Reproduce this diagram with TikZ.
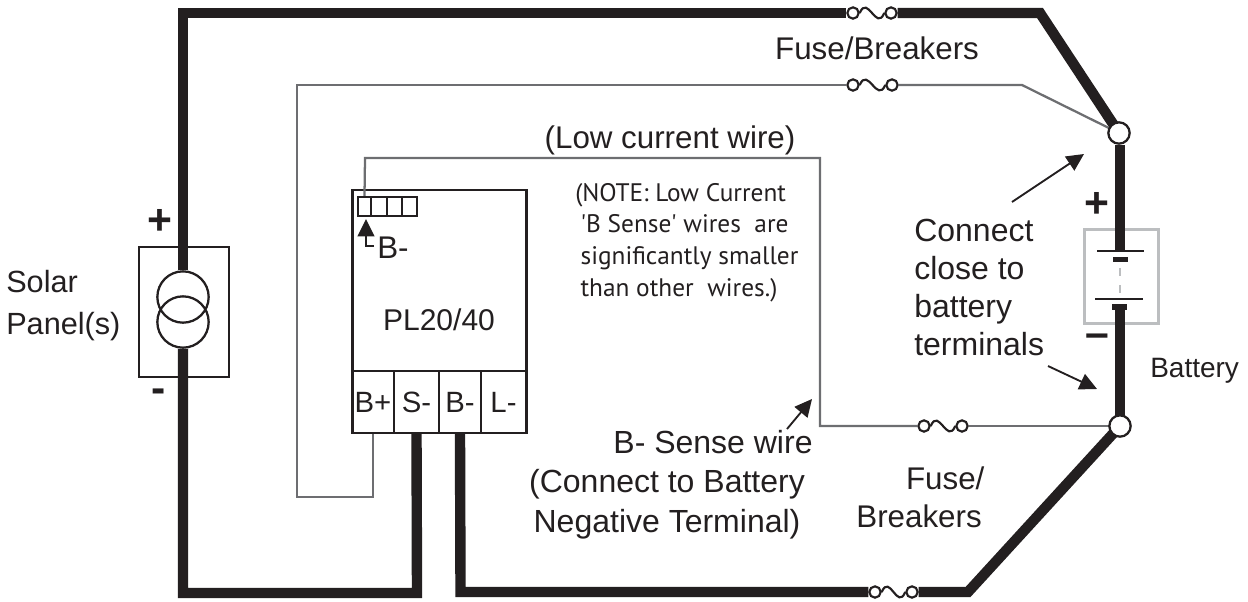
\documentclass[tikz,border=0pt]{standalone}
\usepackage{fontspec}
\setmainfont{Liberation Sans}
\newfontfamily\notefont{PT Sans}
\usepackage{tikz}
\usetikzlibrary{arrows.meta}
\definecolor{ink}{HTML}{231F20}
\definecolor{wiregray}{HTML}{6D6E71}
\definecolor{cellgray}{HTML}{BCBEC0}
\tikzset{
  heavywire/.style={draw=ink,line width=7.8pt,line join=miter},
  lightwire/.style={draw=wiregray,line width=1.7pt},
  boxline/.style={draw=ink,line width=1.7pt},
  fusepin/.style={circle,draw=ink,fill=white,line width=1.6pt,minimum size=8.5pt,inner sep=0pt},
  fusecurve/.style={draw=ink,line width=1.6pt},
  junction/.style={circle,draw=ink,fill=white,line width=1.7pt,minimum size=16pt,inner sep=0pt},
  termbox/.style={boxline,minimum height=46.5pt,inner sep=0pt,font=\fontsize{22}{24}\selectfont,text=ink},
  label/.style={font=\fontsize{23.5}{29}\selectfont,text=ink,inner sep=0pt},
  signmark/.style={label,font=\bfseries\fontsize{32}{34}\selectfont,anchor=center},
  pointer/.style={draw=ink,line width=1.4pt,-{Triangle[length=13pt,width=12.5pt]}}
}
\newcommand{\fusesym}[2]{\draw[fusecurve] (#1.east) .. controls +(8,-19) and +(-8,19) .. (#2.west);}
\begin{document}
\begin{tikzpicture}[x=0.75pt,y=-0.75pt]
\useasboundingbox (0,0) rectangle (1248,601);
% solar panel
\node[boxline,minimum width=67.5pt,minimum height=97.5pt,inner sep=0pt] (panel) at (184,312) {};
\node[circle,boxline,minimum size=38.5pt,inner sep=0pt] (srcT) at (183,297) {};
\node[circle,boxline,minimum size=38.5pt,inner sep=0pt] (srcB) at (183,322) {};
% controller
\node[boxline,minimum width=130.5pt,minimum height=182pt,inner sep=0pt] (ctrl) at (439.5,311.5) {};
\node[termbox,minimum width=31pt] (tBp) at (373,402) {B+};
\node[termbox,minimum width=34pt] (tS) at (416.5,402) {S-};
\node[termbox,minimum width=31.5pt] (tB) at (460,402) {B-};
\node[termbox,minimum width=33.5pt] (tL) at (503.5,402) {L-};
\node[boxline,minimum width=9.75pt,minimum height=14.25pt,inner sep=0pt] (pinA) at (364.5,206.5) {};
\node[boxline,minimum width=12pt,minimum height=14.25pt,inner sep=0pt] (pinB) at (379,206.5) {};
\node[boxline,minimum width=11pt,minimum height=14.25pt,inner sep=0pt] (pinC) at (394.5,206.5) {};
\node[boxline,minimum width=11pt,minimum height=14.25pt,inner sep=0pt] (pinD) at (409.5,206.5) {};
% fuses
\node[fusepin] (fuseAl) at (853,13) {};
\node[fusepin] (fuseAr) at (891,13) {};
\node[fusepin] (fuseBl) at (853,85) {};
\node[fusepin] (fuseBr) at (892,85) {};
\node[fusepin] (fuseCl) at (924,426) {};
\node[fusepin] (fuseCr) at (962,426) {};
\node[fusepin] (fuseDl) at (875,592) {};
\node[fusepin] (fuseDr) at (912,592) {};
% battery
\node[draw=cellgray,line width=1.7pt,minimum width=55.5pt,minimum height=70.5pt,inner sep=0pt] (cell) at (1121.5,276.5) {};
\coordinate (plateA) at (1120,251);
\coordinate (plateB) at (1120,299);
\coordinate (gapA) at (1120,262);
\coordinate (gapB) at (1120,304);
% corners
\coordinate (topL) at (183,13);
\coordinate (topR) at (1040,13);
\coordinate (lightL) at (297,85);
\coordinate (lightR) at (1022,85);
\coordinate (lightB) at (373,497);
\coordinate (senseT) at (365,158);
\coordinate (senseR) at (820,158);
\coordinate (senseB) at (820,426);
\coordinate (botS) at (417,593);
\coordinate (botB) at (460.5,592);
\coordinate (botR) at (968,592);
% wires
\draw[heavywire] (srcT.north) -- (topL) -- (fuseAl.west);
\draw[heavywire] (fuseAr.east) -- (topR) -- (1119,133) coordinate (posT);
\draw[heavywire] (srcB.south) |- (botS) -- (tS.south);
\draw[heavywire] (tB.south) -- (botB) -- (fuseDl.west);
\draw[heavywire] (fuseDr.east) -- (botR) -- (1120,426) coordinate (negT);
\draw[lightwire] (tBp.south) -- (lightB) -- (297,497) -- (lightL) -- (fuseBl.west);
\draw[lightwire] (fuseBr.east) -- (lightR) -- (posT);
\draw[lightwire] (pinA.north) -- (senseT) -- (senseR) -- (senseB) -- (fuseCl.west);
\draw[lightwire] (fuseCr.east) -- (negT);
\node[junction] (posJ) at (posT) {};
\node[junction] (negJ) at (negT) {};
\draw[heavywire] (1120,145) -- (plateA);
\draw[heavywire] (plateB |- gapB) -- (1120,415);
\draw[ink,line width=1.7pt] (1097,251) -- (1144,251);
\draw[ink,line width=1.7pt] (1095,299) -- (1143,299);
\fill[ink] (1113,257) rectangle (1128,262);
\fill[ink] (1112,304) rectangle (1127,310);
\draw[cellgray,line width=1.7pt] (1120,268) -- (1120,276) (1120,285) -- (1120,293);
\fusesym{fuseAl}{fuseAr}
\fusesym{fuseBl}{fuseBr}
\fusesym{fuseCl}{fuseCr}
\fusesym{fuseDl}{fuseDr}
% labels
\node[label,anchor=base] (fuseTopLbl) at (877,59) {Fuse/Breakers};
\node[label,anchor=base] (lowLbl) at (670,148) {(Low current wire)};
\node[label,anchor=base west,align=left,font=\fontsize{24}{28.5}\selectfont] (closeLbl) at (914,355) {Connect\\close to\\battery\\terminals};
\node[label,anchor=base west,font=\fontsize{21}{24}\selectfont] (batLbl) at (1150,377) {Battery};
\node[label,anchor=base west,align=left,font=\fontsize{23}{31}\selectfont] (solarLbl) at (6,334) {Solar\\Panel(s)};
\node[label,anchor=base,font=\fontsize{22.5}{24}\selectfont] (ctrlLbl) at (439,330) {PL20/40};
\node[label,anchor=base west] (bsLbl) at (377,258) {B-};
\node[label,anchor=base,align=center,font=\fontsize{24}{29.5}\selectfont] (senseLbl) at (667,532) {\hspace*{69pt}B- Sense wire\\(Connect to Battery\\Negative Terminal)};
\node[label,anchor=base east,align=right,font=\fontsize{23.5}{28.5}\selectfont] (fuseBotLbl) at (982,527) {Fuse/\hspace*{-2pt}\\Breakers};
\node[anchor=base west,align=left,inner sep=0pt,text=ink,font=\notefont\fontsize{19}{23.7}\selectfont] (noteLbl) at (575,296)
  {(NOTE: Low Current\\\hspace*{4pt}'B Sense' wires\ \ are\\\hspace*{4pt}significantly smaller\\\hspace*{4pt}than other\ \ wires.)};
\node[signmark] (plusL) at (160,222) {+};
\node[signmark] (minusL) at (159,396) {-};
\node[signmark] (plusR) at (1097,205) {+};
\node[signmark] (minusR) at (1097,341) {–};
% pointers
\coordinate (tailA) at (1012,202);
\coordinate (tipA) at (1084,154);
\coordinate (tailB) at (1048,366);
\coordinate (tipB) at (1097,389);
\coordinate (tailC) at (787,429);
\coordinate (tipC) at (812,399);
\coordinate (tailD) at (374,246);
\coordinate (tipD) at (366,219);
\draw[pointer] (tailA) -- (tipA);
\draw[pointer] (tailB) -- (tipB);
\draw[pointer] (tailC) -- (tipC);
\draw[pointer] (tailD) -| (tipD);
\end{tikzpicture}
\end{document}
